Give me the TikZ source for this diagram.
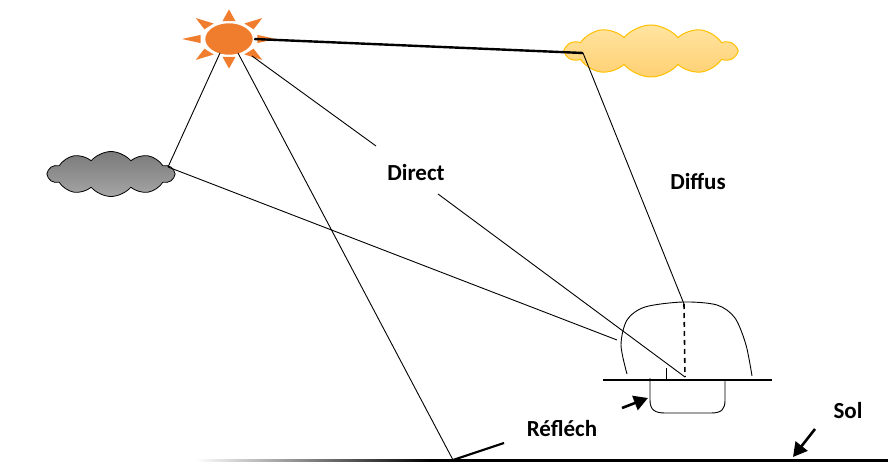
\documentclass[tikz,border=0pt]{standalone}
\usepackage{fontspec}
\setmainfont{Carlito}
\usetikzlibrary{shapes.symbols,shapes.geometric,arrows.meta}

\definecolor{sunorange}{RGB}{240,125,45}
\definecolor{cloudtop}{RGB}{255,228,160}
\definecolor{cloudbot}{RGB}{255,208,115}
\definecolor{cloudline}{RGB}{255,192,0}

\tikzset{
  ray/.style={fill=sunorange, draw=none},
  ray line/.style={line width=0.9pt},
  thick ray/.style={line width=2.2pt},
  lab/.style={font=\bfseries\fontsize{23}{26}\selectfont, inner sep=0pt},
  big arrow/.style={line width=2.6pt, -{Triangle[length=14pt,width=15pt]}}
}

\begin{document}
\begin{tikzpicture}[x=1pt,y=-1pt]
  \useasboundingbox (0,0) rectangle (888,462);

  % soleil
  \begin{scope}[shift={(229,39)}, yscale=0.63]
    \foreach \a in {0,45,...,315}
      \fill[ray] (\a-13:29) -- (\a:47) -- (\a+13:29) -- cycle;
  \end{scope}
  \node[ellipse, fill=sunorange, draw=white, line width=1.5pt,
        minimum width=49, minimum height=33] (sun) at (229,39) {};

  % nuages
  \node[cloud, cloud puffs=10, cloud puff arc=100, aspect=3.3,
        draw=cloudline, line width=1pt, top color=cloudtop, bottom color=cloudbot,
        minimum width=170, minimum height=52, inner sep=0pt] (yellowcloud) at (651,51) {};
  \node[cloud, cloud puffs=10, cloud puff arc=100, aspect=2.9,
        draw=black, line width=0.8pt, top color=gray!95!black, bottom color=gray!70,
        minimum width=126, minimum height=45, inner sep=0pt] (graycloud) at (111,174) {};

  % points de depart et d'arrivee
  \coordinate (s1) at (220,53);
  \coordinate (s2) at (238,53);
  \coordinate (s3) at (252,56);
  \coordinate (gc) at (168,167);
  \coordinate (yc) at (583,53);
  \coordinate (d1) at (376,146);
  \coordinate (d2) at (438,194);
  \coordinate (hc) at (685,377);
  \coordinate (hl) at (617,340);
  \coordinate (dtop) at (684,304);
  \coordinate (refl) at (453,460);
  \coordinate (reflend) at (504,443);

  % rayons
  \draw[line width=2.4pt] (sun.east) -- (yc);
  \draw[ray line] (s1) -- (gc);
  \draw[ray line] (s2) -- (refl);
  \draw[ray line] (s3) -- (d1);
  \draw[ray line] (d2) -- (hc);
  \draw[ray line] (gc) -- (hl);
  \draw[ray line] (yc) -- (dtop);
  \draw[line width=1.6pt, dash pattern=on 5pt off 4pt] (dtop) -- (hc);
  \draw[thick ray] (refl) -- (reflend);

  % textes
  \node[lab] (direct) at (416,173) {Direct};
  \node[lab] (diffus) at (698,182) {Diffus};
  \node[lab] (reflech) at (562,429) {Réfléch};
  \node[lab] (sol) at (848,411) {Sol};

  % capteur
  \draw[line width=0.9pt] plot[smooth] coordinates {(627,374) (621,345) (627,320) (645,307)
    (683,302) (717,305) (735,318) (746,345) (752,376)};
  \draw[line width=2pt] (603,380) -- (772,380);
  \draw[line width=0.9pt] (666,368) -- (666,380);
  \draw[line width=0.9pt] (650,378) -- (650,400) .. controls (650,410) and (655,413) .. (665,413)
    -- (711,413) .. controls (722,413) and (725,409) .. (725,400) -- (725,379);

  % sol
  \shade[left color=white, right color=black] (195,459) rectangle (430,462);
  \fill[black] (430,459) rectangle (888,462);

  % fleches
  \coordinate (a1) at (622,408);
  \coordinate (a1end) at (648,398);
  \coordinate (a2) at (815,429);
  \coordinate (a2end) at (793,457);
  \draw[big arrow] (a1) -- (a1end);
  \draw[big arrow] (a2) -- (a2end);
\end{tikzpicture}
\end{document}
